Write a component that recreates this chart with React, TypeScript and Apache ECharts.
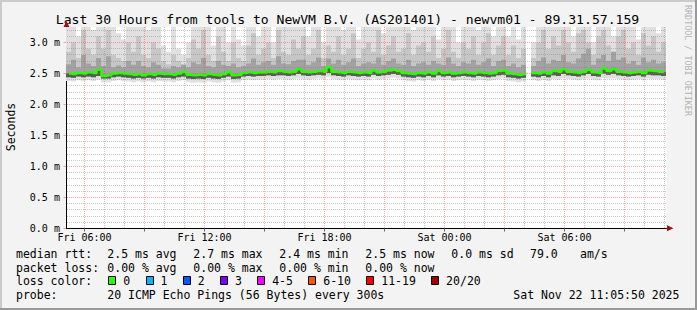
import React, { useEffect, useRef } from 'react';
import * as echarts from 'echarts';

const TITLE = 'Last 30 Hours from tools to NewVM B.V. (AS201401) - newvm01 - 89.31.57.159';
const START_HOUR = 5 + 5 / 60 + 50 / 3600; // Fri 05:05:50, hours since Fri 00:00
const SPAN_HOURS = 30;
const STEP_HOURS = 0.25;

const MEDIAN: (number | null)[] = [
  2.50, 2.49, 2.51, 2.50, 2.52, 2.51, 2.56, 2.46, 2.47, 2.50,
  2.51, 2.50, 2.49, 2.48, 2.49, 2.47, 2.49, 2.48, 2.50, 2.49,
  2.49, 2.48, 2.50, 2.53, 2.48, 2.47, 2.48, 2.47, 2.49, 2.48,
  2.47, 2.49, 2.52, 2.47, 2.48, 2.51, 2.52, 2.51, 2.52, 2.52,
  2.53, 2.52, 2.54, 2.53, 2.52, 2.53, 2.57, 2.53, 2.52, 2.53,
  2.54, 2.53, 2.60, 2.53, 2.52, 2.51, 2.53, 2.52, 2.51, 2.52,
  2.51, 2.55, 2.52, 2.53, 2.55, 2.56, 2.54, 2.51, 2.50, 2.49,
  2.51, 2.50, 2.52, 2.50, 2.54, 2.51, 2.52, 2.50, 2.51, 2.52,
  2.51, 2.50, 2.52, 2.51, 2.50, 2.51, 2.54, 2.55, 2.50, 2.49,
  2.48, 2.49, null, 2.51, 2.50, 2.52, 2.50, 2.54, 2.53, 2.57,
  2.53, 2.52, 2.51, 2.53, 2.56, 2.52, 2.51, 2.58, 2.54, 2.57,
  2.53, 2.52, 2.51, 2.52, 2.53, 2.51, 2.55, 2.54, 2.53, 2.52,
];

const PING_MIN: (number | null)[] = [
  2.38, 2.37, 2.39, 2.38, 2.39, 2.38, 2.40, 2.36, 2.36, 2.38,
  2.39, 2.38, 2.37, 2.36, 2.37, 2.36, 2.37, 2.36, 2.38, 2.37,
  2.37, 2.36, 2.38, 2.39, 2.36, 2.35, 2.36, 2.35, 2.37, 2.36,
  2.35, 2.37, 2.39, 2.35, 2.36, 2.39, 2.40, 2.39, 2.40, 2.40,
  2.41, 2.40, 2.41, 2.41, 2.40, 2.41, 2.42, 2.41, 2.40, 2.41,
  2.42, 2.41, 2.44, 2.41, 2.40, 2.39, 2.41, 2.40, 2.39, 2.40,
  2.39, 2.42, 2.40, 2.41, 2.42, 2.43, 2.42, 2.39, 2.38, 2.37,
  2.39, 2.38, 2.40, 2.38, 2.41, 2.39, 2.40, 2.38, 2.39, 2.40,
  2.39, 2.38, 2.40, 2.39, 2.38, 2.39, 2.41, 2.42, 2.38, 2.37,
  2.36, 2.37, null, 2.39, 2.38, 2.40, 2.38, 2.41, 2.40, 2.42,
  2.41, 2.40, 2.39, 2.41, 2.42, 2.40, 2.39, 2.43, 2.42, 2.42,
  2.41, 2.40, 2.39, 2.40, 2.41, 2.39, 2.42, 2.41, 2.41, 2.40,
];

const PING_P25: (number | null)[] = [
  2.44, 2.43, 2.45, 2.44, 2.45, 2.44, 2.46, 2.42, 2.42, 2.44,
  2.45, 2.44, 2.43, 2.42, 2.43, 2.42, 2.43, 2.42, 2.44, 2.43,
  2.43, 2.42, 2.44, 2.45, 2.42, 2.41, 2.42, 2.41, 2.43, 2.42,
  2.41, 2.43, 2.45, 2.41, 2.42, 2.45, 2.46, 2.45, 2.46, 2.46,
  2.47, 2.46, 2.47, 2.47, 2.46, 2.47, 2.49, 2.47, 2.46, 2.47,
  2.48, 2.47, 2.51, 2.47, 2.46, 2.45, 2.47, 2.46, 2.45, 2.46,
  2.45, 2.48, 2.46, 2.47, 2.48, 2.49, 2.48, 2.45, 2.44, 2.43,
  2.45, 2.44, 2.46, 2.44, 2.47, 2.45, 2.46, 2.44, 2.45, 2.46,
  2.45, 2.44, 2.46, 2.45, 2.44, 2.45, 2.47, 2.48, 2.44, 2.43,
  2.42, 2.43, null, 2.45, 2.44, 2.46, 2.44, 2.47, 2.46, 2.49,
  2.47, 2.46, 2.45, 2.47, 2.49, 2.46, 2.45, 2.50, 2.48, 2.49,
  2.47, 2.46, 2.45, 2.46, 2.47, 2.45, 2.48, 2.47, 2.47, 2.46,
];

const PING_P75: (number | null)[] = [
  2.65, 2.72, 2.60, 2.80, 2.66, 2.62, 2.75, 2.62, 2.78, 2.60,
  2.63, 2.60, 2.70, 2.64, 2.70, 2.62, 2.60, 2.68, 2.64, 2.58,
  2.58, 2.62, 2.60, 2.64, 2.60, 2.68, 2.65, 2.75, 2.62, 2.60,
  2.70, 2.64, 2.62, 2.66, 2.60, 2.62, 2.66, 2.74, 2.64, 2.68,
  2.70, 2.64, 2.78, 2.66, 2.65, 2.70, 2.72, 2.72, 2.64, 2.68,
  2.76, 2.62, 2.74, 2.66, 2.72, 2.64, 2.68, 2.74, 2.62, 2.66,
  2.68, 2.66, 2.76, 2.64, 2.70, 2.74, 2.66, 2.64, 2.72, 2.62,
  2.66, 2.68, 2.64, 2.70, 2.66, 2.64, 2.76, 2.66, 2.62, 2.68,
  2.66, 2.72, 2.64, 2.68, 2.74, 2.62, 2.70, 2.72, 2.62, 2.66,
  2.60, 2.64, null, 2.62, 2.70, 2.76, 2.66, 2.72, 2.70, 2.80,
  2.68, 2.66, 2.74, 2.82, 2.90, 2.64, 2.74, 2.80, 2.70, 2.85,
  2.72, 2.76, 2.66, 2.70, 2.64, 2.76, 2.68, 2.72, 2.66, 2.68,
];

const PING_P90: (number | null)[] = [
  2.85, 3.00, 2.75, 3.20, 2.90, 2.80, 3.10, 2.90, 3.20, 2.80,
  2.75, 2.70, 3.00, 2.85, 3.10, 2.80, 2.75, 3.00, 2.90, 2.70,
  2.65, 2.80, 2.70, 2.65, 2.75, 3.05, 2.90, 3.20, 2.80, 2.70,
  3.10, 2.85, 2.70, 3.00, 2.75, 2.70, 2.95, 3.15, 2.80, 2.90,
  3.00, 2.75, 3.20, 2.85, 2.80, 3.05, 2.90, 3.10, 2.80, 2.90,
  3.20, 2.75, 2.95, 2.85, 3.10, 2.80, 2.90, 3.15, 2.75, 2.90,
  3.00, 2.85, 3.20, 2.80, 2.95, 3.10, 2.85, 2.90, 3.15, 2.80,
  2.95, 3.00, 2.85, 3.10, 2.75, 2.90, 3.20, 2.85, 2.75, 3.00,
  2.90, 3.10, 2.80, 3.00, 3.15, 2.80, 2.95, 3.10, 2.80, 2.95,
  2.75, 2.90, null, 2.75, 3.00, 3.20, 2.90, 3.10, 2.95, 3.20,
  3.00, 2.85, 3.15, 3.20, 3.00, 2.80, 3.10, 3.20, 2.95, 2.85,
  3.10, 3.20, 2.90, 3.00, 2.80, 3.15, 2.95, 3.10, 2.85, 3.00,
];

const PING_MAX: (number | null)[] = [
  3.30, 3.30, 3.10, 3.30, 3.30, 3.20, 3.30, 3.30, 3.30, 3.30,
  3.15, 3.05, 3.30, 3.30, 3.30, 3.30, 3.20, 3.30, 3.30, 2.95,
  2.85, 3.30, 2.90, 2.80, 3.00, 3.30, 3.30, 3.30, 3.30, 2.95,
  3.30, 3.30, 3.00, 3.30, 3.05, 2.95, 3.30, 3.30, 3.10, 3.30,
  3.30, 3.00, 3.30, 3.30, 3.25, 3.30, 3.30, 3.30, 3.10, 3.30,
  3.30, 3.00, 3.30, 3.30, 3.30, 3.20, 3.30, 3.30, 3.05, 3.30,
  3.30, 3.30, 3.30, 3.15, 3.30, 3.30, 3.30, 3.30, 3.30, 3.20,
  3.30, 3.30, 3.30, 3.30, 3.05, 3.30, 3.30, 3.30, 3.00, 3.30,
  3.30, 3.30, 3.20, 3.30, 3.30, 3.10, 3.30, 3.30, 3.10, 3.30,
  3.05, 3.30, null, 3.00, 3.30, 3.30, 3.30, 3.30, 3.30, 3.30,
  3.30, 3.10, 3.30, 3.30, 3.30, 3.00, 3.30, 3.30, 3.30, 3.10,
  3.30, 3.30, 3.30, 3.30, 3.05, 3.30, 3.30, 3.30, 3.15, 3.30,
];

const Y_MAX = 3.25;
const Y_TICKS = [0, 0.5, 1.0, 1.5, 2.0, 2.5, 3.0];
const Y_MINOR = [
  0.1, 0.2, 0.3, 0.4, 0.6, 0.7, 0.8, 0.9, 1.1, 1.2, 1.3, 1.4, 1.6, 1.7, 1.8, 1.9,
  2.1, 2.2, 2.3, 2.4, 2.6, 2.7, 2.8, 2.9, 3.1, 3.2,
];
const X_LABEL_HOURS = [6, 12, 18, 24, 30];
const X_MAJOR_HOURS = [6, 9, 12, 15, 18, 21, 24, 27, 30, 33];
const X_MINOR_HOURS = [7, 8, 10, 11, 13, 14, 16, 17, 19, 20, 22, 23, 25, 26, 28, 29, 31, 32, 34, 35];

const RTT_LABEL = 'median rtt:';
const RTT_STATS = ['2.5 ms avg', '2.7 ms max', '2.4 ms min', '2.5 ms now', '0.0 ms sd'];
const RTT_EXTRA = ['79.0', 'am/s'];
const LOSS_LABEL = 'packet loss:';
const LOSS_STATS = ['0.00 % avg', '0.00 % max', '0.00 % min', '0.00 % now'];
const LOSS_COLOR_LABEL = 'loss color:';
const LOSS_COLORS: [string, string][] = [
  ['0', '#26ff00'], ['1', '#00b8ff'], ['2', '#0059ff'], ['3', '#7e00ff'],
  ['4-5', '#ff00ff'], ['6-10', '#ff5500'], ['11-19', '#ff0000'], ['20/20', '#a10000'],
];
const PROBE_LABEL = 'probe:';
const PROBE_TEXT = '20 ICMP Echo Pings (56 Bytes) every 300s';
const STAMP = 'Sat Nov 22 11:05:50 2025';
const Y_TITLE = 'Seconds';
const WATERMARK = 'RRDTOOL / TOBI OETIKER';

const MONO = '"DejaVu Sans Mono", monospace';
const GRID_LEFT = 66.44;
const GRID_TOP = 27;
const GRID_W = 600;
const GRID_H = 201.5;
const MINOR_COLOR = 'rgba(120,120,120,0.4)';
const MAJOR_COLOR = 'rgba(255,60,60,0.45)';

function hourLabel(v: number): string {
  const day = v < 24 ? 'Fri' : 'Sat';
  const h = Math.round(v) % 24;
  return `${day} ${String(h).padStart(2, '0')}:00`;
}

function buildOption(): any {
  const bucketTime = (i: number) => START_HOUR + STEP_HOURS * (i + 0.5);
  const smokeData: number[][] = [];
  MEDIAN.forEach((m, i) => {
    if (m == null) return;
    smokeData.push([
      bucketTime(i), PING_MIN[i] as number, PING_P25[i] as number, PING_P75[i] as number,
      PING_P90[i] as number, PING_MAX[i] as number, m,
    ]);
  });
  const medianData = MEDIAN.map((m, i) => [bucketTime(i), m == null ? '-' : m]);

  // [x, y, orientation (0 = horizontal, 1 = vertical), major]
  const gridData: number[][] = [
    ...Y_MINOR.map((v) => [START_HOUR, v, 0, 0]),
    ...X_MINOR_HOURS.map((h) => [h, 0, 1, 0]),
    ...Y_TICKS.filter((v) => v > 0).map((v) => [START_HOUR, v, 0, 1]),
    ...X_MAJOR_HOURS.map((h) => [h, 0, 1, 1]),
  ];

  const legendFont = `11.5px ${MONO}`;
  const txt = (text: string, x: number, y: number, extra: any = {}) => ({
    type: 'text',
    x,
    y,
    silent: true,
    style: {
      text,
      fill: '#000',
      font: legendFont,
      align: 'left',
      verticalAlign: 'middle',
      textAlign: 'left',
      textVerticalAlign: 'middle',
      ...extra,
    },
  });

  const COL_X = [107.3, 193.3, 279.3, 365.3, 451.3];
  const ROW_Y = [253.8, 267.8, 281.0, 294.5];
  const CHAR_W = 6.92;
  const graphics: any[] = [];
  graphics.push({ type: 'rect', shape: { x: 0, y: 0, width: 697, height: 2 }, style: { fill: '#cbcbcb' }, silent: true });
  graphics.push({ type: 'rect', shape: { x: 0, y: 0, width: 2, height: 310 }, style: { fill: '#cbcbcb' }, silent: true });
  graphics.push({ type: 'rect', shape: { x: 0, y: 308, width: 697, height: 2 }, style: { fill: '#999999' }, silent: true });
  graphics.push({ type: 'rect', shape: { x: 695, y: 0, width: 2, height: 310 }, style: { fill: '#999999' }, silent: true });
  graphics.push(txt(TITLE, 347.5, 19.5, { font: `13.1px ${MONO}`, align: 'center', textAlign: 'center' }));
  graphics.push({
    type: 'text', x: 10.5, y: 127, rotation: Math.PI / 2, silent: true,
    style: { text: Y_TITLE, fill: '#000', font: legendFont, align: 'center', verticalAlign: 'middle', textAlign: 'center', textVerticalAlign: 'middle' },
  });
  graphics.push({
    type: 'text', x: 687.8, y: 60.5, rotation: -Math.PI / 2, silent: true,
    style: { text: WATERMARK, fill: '#b4b4b4', font: `8.4px ${MONO}`, align: 'center', verticalAlign: 'middle', textAlign: 'center', textVerticalAlign: 'middle' },
  });
  graphics.push({ type: 'polygon', silent: true, shape: { points: [[63.5, 27], [69.5, 27], [66.5, 21]] }, style: { fill: '#a01010' } });
  graphics.push({ type: 'polygon', silent: true, shape: { points: [[667, 225.3], [667, 231.3], [673.5, 228.3]] }, style: { fill: '#a01010' } });
  graphics.push(txt(RTT_LABEL, 16, ROW_Y[0]));
  RTT_STATS.forEach((s, i) => graphics.push(txt(s, COL_X[i], ROW_Y[0])));
  graphics.push(txt(RTT_EXTRA[0], 530, ROW_Y[0]));
  graphics.push(txt(RTT_EXTRA[1], 580, ROW_Y[0]));
  graphics.push(txt(LOSS_LABEL, 16, ROW_Y[1]));
  LOSS_STATS.forEach((s, i) => graphics.push(txt(s, COL_X[i], ROW_Y[1])));
  graphics.push(txt(LOSS_COLOR_LABEL, 16, ROW_Y[2]));
  let bx = 108.3;
  LOSS_COLORS.forEach(([label, color]) => {
    graphics.push({
      type: 'rect', silent: true,
      shape: { x: Math.round(bx) + 0.5, y: Math.round(ROW_Y[2] - 4) - 0.5, width: 7, height: 8 },
      style: { fill: color, stroke: '#000', lineWidth: 1 },
    });
    graphics.push(txt(label, bx + 15, ROW_Y[2]));
    bx = bx + 15 + label.length * CHAR_W + 15.3;
  });
  graphics.push(txt(PROBE_LABEL, 16, ROW_Y[3]));
  graphics.push(txt(PROBE_TEXT, COL_X[0], ROW_Y[3]));
  graphics.push(txt(STAMP, 513.3, ROW_Y[3]));

  return {
    animation: false,
    backgroundColor: '#f3f3f3',
    textStyle: { fontFamily: MONO },
    grid: {
      left: GRID_LEFT, top: GRID_TOP, width: GRID_W, height: GRID_H,
      show: true, backgroundColor: '#ffffff', borderWidth: 0, containLabel: false,
    },
    xAxis: {
      type: 'value',
      min: START_HOUR,
      max: START_HOUR + SPAN_HOURS,
      axisLine: { show: true, onZero: false, lineStyle: { color: '#000', width: 1 } },
      axisTick: { show: true, customValues: X_MAJOR_HOURS, length: 3, lineStyle: { color: '#666' } },
      axisLabel: {
        customValues: X_LABEL_HOURS,
        formatter: (v: number) => hourLabel(v),
        fontFamily: MONO, fontSize: 10, color: '#000', margin: 4, lineHeight: 10,
      },
      splitLine: { show: false },
    },
    yAxis: {
      type: 'value',
      min: 0,
      max: Y_MAX,
      axisLine: { show: true, onZero: false, lineStyle: { color: '#000', width: 1 } },
      axisTick: { show: true, customValues: Y_TICKS, length: 3, lineStyle: { color: MAJOR_COLOR } },
      axisLabel: {
        customValues: Y_TICKS,
        formatter: (v: number) => `${v.toFixed(1)} m`,
        fontFamily: MONO, fontSize: 10, color: '#000', margin: 6.5,
      },
      splitLine: { show: false },
    },
    series: [
      {
        type: 'custom',
        z: 2,
        silent: true,
        clip: true,
        data: smokeData,
        encode: { x: 0, y: [1, 5] },
        renderItem: (params: any, api: any) => {
          const t = api.value(0);
          const cs = params.coordSys;
          const xl = Math.round(api.coord([t - STEP_HOURS / 2, 0])[0]);
          const xr = Math.round(api.coord([t + STEP_HOURS / 2, 0])[0]);
          const Y = (v: number) => Math.max(cs.y, api.coord([t, v])[1]);
          const band = (a: number, b: number, fill: string) => ({
            type: 'rect',
            shape: { x: xl, y: Y(b), width: xr - xl, height: Y(a) - Y(b) },
            style: { fill },
          });
          return {
            type: 'group',
            children: [
              band(api.value(1), api.value(5), '#e0e0e0'),
              band(api.value(2), api.value(4), '#c6c6c6'),
              band(api.value(2), api.value(3), '#a2a2a2'),
              band(api.value(2), api.value(6), '#5a5a5a'),
            ],
          };
        },
      },
      {
        type: 'custom',
        z: 3,
        silent: true,
        data: gridData,
        encode: { x: 0, y: 1 },
        renderItem: (params: any, api: any) => {
          const cs = params.coordSys;
          const stroke = api.value(3) === 1 ? MAJOR_COLOR : MINOR_COLOR;
          const left = Math.ceil(cs.x);
          const right = Math.round(cs.x + cs.width);
          const top = Math.round(cs.y);
          const bottom = Math.floor(cs.y + cs.height);
          if (api.value(2) === 0) {
            const y = Math.floor(api.coord([api.value(0), api.value(1)])[1]) + 0.5;
            return {
              type: 'line',
              shape: { x1: left, y1: y, x2: right, y2: y },
              style: { stroke, lineWidth: 1, lineDash: [1, 1] },
            };
          }
          const x = Math.floor(api.coord([api.value(0), 0])[0]) + 0.5;
          return {
            type: 'line',
            shape: { x1: x, y1: top, x2: x, y2: bottom },
            style: { stroke, lineWidth: 1, lineDash: [1, 1] },
          };
        },
      },
      {
        type: 'line',
        z: 4,
        silent: true,
        data: medianData,
        step: 'middle',
        showSymbol: false,
        connectNulls: false,
        lineStyle: { color: '#26ff00', width: 2.5 },
        itemStyle: { color: '#26ff00' },
      },
    ],
    graphic: graphics,
  };
}

export default function App() {
  const ref = useRef<HTMLDivElement>(null);
  useEffect(() => {
    if (!ref.current) return;
    const chart = echarts.init(ref.current, null, { renderer: 'svg' });
    chart.setOption(buildOption());
    return () => chart.dispose();
  }, []);
  return (
    <div
      ref={ref}
      style={{ position: 'absolute', left: 0, top: 0, width: 697, height: 310 }}
    />
  );
}
